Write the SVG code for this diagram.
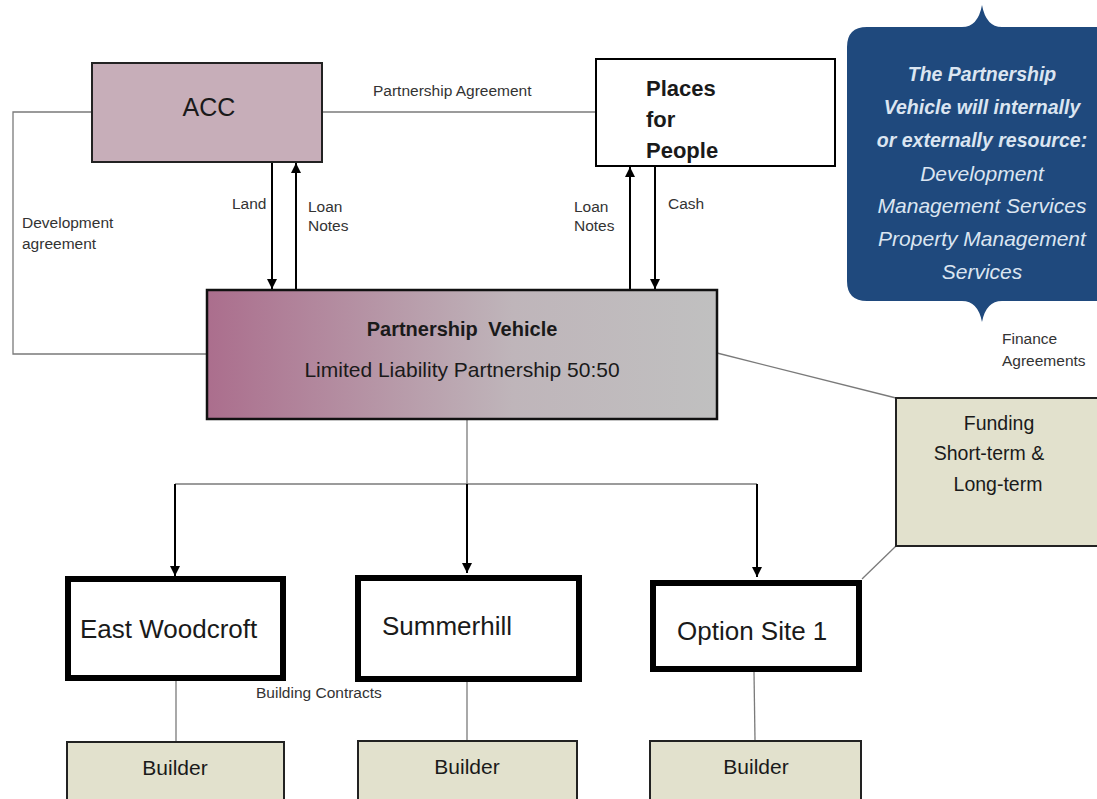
<svg xmlns="http://www.w3.org/2000/svg" width="1097" height="799" viewBox="0 0 1097 799">
<defs>
<linearGradient id="pvg" x1="0" y1="0" x2="1" y2="0">
<stop offset="0" stop-color="#ab6e8d"/>
<stop offset="0.6" stop-color="#bfb5ba"/>
<stop offset="1" stop-color="#c0c0c0"/>
</linearGradient>
<marker id="ah" viewBox="0 0 10 10" refX="10" refY="5" markerWidth="10" markerHeight="10" markerUnits="userSpaceOnUse" orient="auto">
<path d="M0,0 L10,5 L0,10 Z" fill="#000"/>
</marker>
<style>
text{font-family:"Liberation Sans",Arial,sans-serif;fill:#1a1a1a}
.lbl{font-size:15.5px;fill:#333}
.thin{stroke:#7a7a7a;stroke-width:1.3;fill:none}
.arr{stroke:#000;stroke-width:2;fill:none;marker-end:url(#ah)}
.site{fill:#fff;stroke:#000;stroke-width:6}
.tan{fill:#e2e1cd;stroke:#222;stroke-width:2}
.co{font-size:21px;fill:#dbe5f1;font-style:italic}
.cob{font-size:19.5px;font-weight:bold}
.st{font-size:26px}
.bl{font-size:21px}
</style>
</defs>
<rect width="1097" height="799" fill="#fff"/>

<g id="connectors">
<line class="thin" x1="322" y1="112" x2="596" y2="112"/>
<polyline class="thin" points="92,112 13,112 13,354 207,354"/>
<line class="arr" x1="272" y1="163" x2="272" y2="289"/>
<line class="arr" x1="296" y1="289" x2="296" y2="163"/>
<line class="arr" x1="630" y1="289" x2="630" y2="167"/>
<line class="arr" x1="655" y1="167" x2="655" y2="289"/>
<line class="thin" x1="467" y1="419" x2="467" y2="484"/>
<polyline class="thin" points="175,484 757,484"/>
<line class="arr" x1="175" y1="484" x2="175" y2="576"/>
<line class="arr" x1="467" y1="484" x2="467" y2="573"/>
<line class="arr" x1="757" y1="484" x2="757" y2="577"/>
<line class="thin" x1="717" y1="353" x2="896" y2="398"/>
<line class="thin" x1="896" y1="546" x2="862" y2="579"/>
<line class="thin" x1="176" y1="680" x2="176" y2="741"/>
<line class="thin" x1="467" y1="682" x2="467" y2="740"/>
<line class="thin" x1="754" y1="672" x2="755" y2="740"/>
<text class="lbl" x="373" y="96">Partnership Agreement</text>
<text class="lbl" x="22" y="228">Development</text>
<text class="lbl" x="22" y="249">agreement</text>
<text class="lbl" x="232" y="209">Land</text>
<text class="lbl" x="308" y="212">Loan</text>
<text class="lbl" x="308" y="231">Notes</text>
<text class="lbl" x="574" y="212">Loan</text>
<text class="lbl" x="574" y="231">Notes</text>
<text class="lbl" x="668" y="209">Cash</text>
<text class="lbl" x="1002" y="344">Finance</text>
<text class="lbl" x="1002" y="366">Agreements</text>
<text class="lbl" x="256" y="698">Building Contracts</text>
</g>

<g id="acc">
<rect x="92" y="63" width="230" height="99" fill="#c7aeb9" stroke="#222" stroke-width="2"/>
<text x="209" y="116" font-size="25" text-anchor="middle">ACC</text>
</g>

<g id="pfp">
<rect x="596" y="59" width="239" height="107" fill="#fff" stroke="#000" stroke-width="2"/>
<text x="646" y="96" font-size="22" font-weight="bold" fill="#000">Places</text>
<text x="646" y="127" font-size="22" font-weight="bold" fill="#000">for</text>
<text x="646" y="158" font-size="22" font-weight="bold" fill="#000">People</text>
</g>

<g id="pv">
<rect x="207" y="290" width="510" height="129" fill="url(#pvg)" stroke="#111" stroke-width="2.5"/>
<text x="462" y="336" font-size="20" font-weight="bold" word-spacing="5" text-anchor="middle">Partnership Vehicle</text>
<text x="462" y="377" font-size="21" text-anchor="middle">Limited Liability Partnership 50:50</text>
</g>

<g id="callout">
<path d="M867,27 L962,27 Q978,27 982,5 Q986,27 1002,27 L1110,27 L1110,301 L1002,301 Q986,301 982,322 Q978,301 962,301 L867,301 Q847,301 847,281 L847,47 Q847,27 867,27 Z" fill="#1f497d"/>
<text class="co cob" x="982" y="81" text-anchor="middle">The Partnership</text>
<text class="co cob" x="982" y="114" text-anchor="middle">Vehicle will internally</text>
<text class="co cob" x="982" y="147" text-anchor="middle">or externally resource:</text>
<text class="co" x="982" y="181" text-anchor="middle">Development</text>
<text class="co" x="982" y="213" text-anchor="middle">Management Services</text>
<text class="co" x="982" y="246" text-anchor="middle">Property Management</text>
<text class="co" x="982" y="279" text-anchor="middle">Services</text>
</g>

<g id="funding">
<rect class="tan" x="896" y="398" width="210" height="148"/>
<text x="999" y="430" font-size="19.5" text-anchor="middle">Funding</text>
<text x="989" y="460" font-size="19.5" text-anchor="middle">Short-term &amp;</text>
<text x="998" y="491" font-size="19.5" text-anchor="middle">Long-term</text>
</g>

<g id="east-woodcroft">
<rect class="site" x="68" y="579" width="215" height="99"/>
<line x1="67" y1="577" x2="67" y2="681" stroke="#000" stroke-width="4"/>
<text class="st" x="80" y="638">East Woodcroft</text>
</g>

<g id="summerhill">
<rect class="site" x="358" y="578" width="221" height="101"/>
<text class="st" x="382" y="635">Summerhill</text>
</g>

<g id="option-site-1">
<rect class="site" x="653" y="583" width="206" height="86"/>
<line x1="651" y1="580" x2="651" y2="672" stroke="#000" stroke-width="2"/>
<text class="st" x="677" y="640">Option Site 1</text>
</g>

<g id="builder-1">
<rect class="tan" x="67" y="742" width="217" height="70"/>
<text class="bl" x="175" y="775" text-anchor="middle">Builder</text>
</g>
<g id="builder-2">
<rect class="tan" x="358" y="741" width="219" height="70"/>
<text class="bl" x="467" y="774" text-anchor="middle">Builder</text>
</g>
<g id="builder-3">
<rect class="tan" x="650" y="741" width="211" height="70"/>
<text class="bl" x="756" y="774" text-anchor="middle">Builder</text>
</g>
</svg>
